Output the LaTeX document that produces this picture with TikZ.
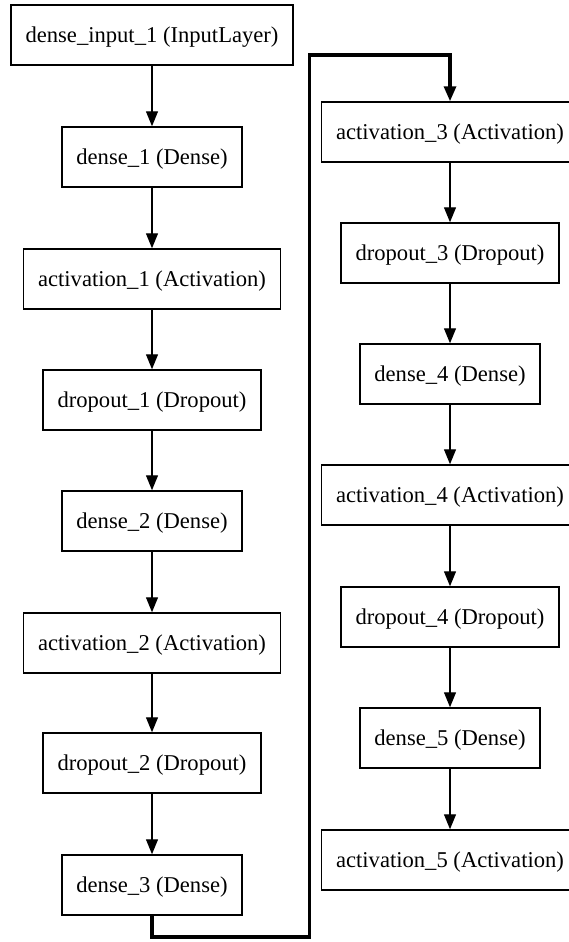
\documentclass[tikz,border=0pt]{standalone}
\usepackage{fontspec}
\setmainfont{Liberation Serif}
\usetikzlibrary{arrows.meta}
\tikzset{
  every picture/.style={x=1pt, y=-1pt, font=\fontsize{22.6}{26}\selectfont},
  layer/.style={draw, line width=1.5pt, fill=white, minimum height=60pt, inner xsep=14.5pt, inner ysep=0pt, text height=14.8pt, text depth=0pt},
  flow/.style={-{Triangle[length=15pt, width=12pt]}, line width=1.3pt},
  jump/.style={-{Triangle[length=15pt, width=12pt]}, line width=3.2pt},
}

\begin{document}
\begin{tikzpicture}
  \useasboundingbox[fill=white] (0,0) rectangle (569,942);
  % left column
  \node[layer] (in)   at (152,35)  {dense\_input\_1 (InputLayer)};
  \node[layer] (d1)   at (152,157) {dense\_1 (Dense)};
  \node[layer] (a1)   at (152,279) {activation\_1 (Activation)};
  \node[layer] (dr1)  at (152,400) {dropout\_1 (Dropout)};
  \node[layer] (d2)   at (152,521) {dense\_2 (Dense)};
  \node[layer] (a2)   at (152,643) {activation\_2 (Activation)};
  \node[layer] (dr2)  at (152,763) {dropout\_2 (Dropout)};
  \node[layer] (d3)   at (152,885) {dense\_3 (Dense)};
  % right column
  \node[layer] (a3)   at (450,132) {activation\_3 (Activation)};
  \node[layer] (dr3)  at (450,253) {dropout\_3 (Dropout)};
  \node[layer] (d4)   at (450,374) {dense\_4 (Dense)};
  \node[layer] (a4)   at (450,495) {activation\_4 (Activation)};
  \node[layer] (dr4)  at (450,617) {dropout\_4 (Dropout)};
  \node[layer] (d5)   at (450,738) {dense\_5 (Dense)};
  \node[layer] (a5)   at (450,860) {activation\_5 (Activation)};
  % arrows
  \draw[flow] (in) -- (d1);  \draw[flow] (d1) -- (a1);  \draw[flow] (a1) -- (dr1);
  \draw[flow] (dr1) -- (d2); \draw[flow] (d2) -- (a2);  \draw[flow] (a2) -- (dr2);
  \draw[flow] (dr2) -- (d3);
  \draw[flow] (a3) -- (dr3); \draw[flow] (dr3) -- (d4); \draw[flow] (d4) -- (a4);
  \draw[flow] (a4) -- (dr4); \draw[flow] (dr4) -- (d5); \draw[flow] (d5) -- (a5);
  % wrap-around to the second column
  \coordinate (low) at (309.5,937);
  \coordinate (high) at (309.5,55);
  \draw[jump] (d3.south) |- (low) -- (high) -| (a3.north);
\end{tikzpicture}
\end{document}
